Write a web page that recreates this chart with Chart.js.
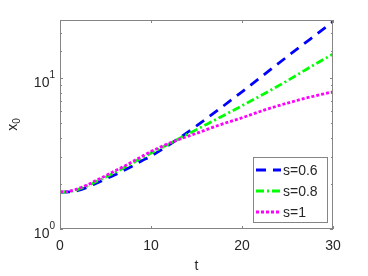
<!DOCTYPE html>
<html>
<head>
<meta charset="utf-8">
<script src="https://cdn.jsdelivr.net/npm/chart.js@4"></script>
<style>
html,body{margin:0;padding:0;background:#fff;}
#wrap{width:368px;height:276px;}
</style>
</head>
<body>
<div id="wrap"><canvas id="chart" width="368" height="276"></canvas></div>
<script>
// data
const t    = [0, 1, 2, 3, 4, 5, 6, 7, 8, 9, 10, 12.5, 15, 17.5, 20, 22.5, 25, 27.5, 30];
const s06  = [1.75, 1.76, 1.80, 1.89, 2.01, 2.14, 2.28, 2.44, 2.62, 2.83, 3.04, 3.78, 4.82, 6.22, 8.1, 10.6, 13.9, 18.1, 23.6];
const s08  = [1.75, 1.77, 1.83, 1.93, 2.06, 2.20, 2.36, 2.54, 2.74, 2.96, 3.18, 3.80, 4.55, 5.45, 6.55, 7.9, 9.6, 11.8, 14.4];
const s1   = [1.76, 1.78, 1.85, 1.96, 2.10, 2.25, 2.42, 2.59, 2.80, 3.02, 3.26, 3.80, 4.30, 4.88, 5.45, 6.15, 6.82, 7.48, 8.1];
const seriesLabels = ['s=0.6', 's=0.8', 's=1'];
const xTicks = [0, 10, 20, 30];
// y tick labels as base + exponent
const yTickBase = {1: '10', 10: '10'};
const yTickExp = {1: '0', 10: '1'};

const FONT = "'Liberation Sans', Arial, sans-serif";
const TXT = '#262626';
const AXC = '#858585';

function pts(ys) {
  return t.map((v, i) => ({x: v, y: ys[i]}));
}

const styles = [
  {color: '#0000ff', dash: [10, 7]},
  {color: '#00ff00', dash: [8, 3, 2, 3]},
  {color: '#ff00ff', dash: [3, 2]}
];
const allSeries = [s06, s08, s1];

// axes box, inward ticks, y labels and the legend, drawn the matlab way
const boxPlugin = {
  id: 'box',
  afterDatasetsDraw(chart) {
    const {ctx, chartArea: a, scales: {x, y}} = chart;
    ctx.save();
    ctx.strokeStyle = AXC;
    ctx.lineWidth = 1;
    ctx.setLineDash([]);
    ctx.strokeRect(a.left + 0.5, a.top + 0.5, a.width - 1, a.height - 1);
    ctx.beginPath();
    xTicks.forEach(v => {
      const px = Math.round(x.getPixelForValue(v)) + 0.5;
      ctx.moveTo(px, a.bottom); ctx.lineTo(px, a.bottom - 3);
      ctx.moveTo(px, a.top); ctx.lineTo(px, a.top + 3);
    });
    y.ticks.forEach(tk => {
      const py = Math.round(y.getPixelForValue(tk.value)) + 0.5;
      const len = yTickBase[tk.value] ? 3 : 2;
      ctx.moveTo(a.left, py); ctx.lineTo(a.left + len, py);
      ctx.moveTo(a.right, py); ctx.lineTo(a.right - len, py);
    });
    ctx.stroke();

    // y tick labels with superscript exponent
    ctx.fillStyle = TXT;
    ctx.textBaseline = 'alphabetic';
    ctx.textAlign = 'left';
    Object.keys(yTickBase).forEach(k => {
      const v = Number(k);
      const py = y.getPixelForValue(v);
      ctx.font = '10px ' + FONT;
      const we = ctx.measureText(yTickExp[k]).width;
      ctx.font = '14px ' + FONT;
      const wb = ctx.measureText(yTickBase[k]).width;
      const x0 = a.left - 5 - we - wb;
      ctx.fillText(yTickBase[k], x0, py + 9);
      ctx.font = '10px ' + FONT;
      ctx.fillText(yTickExp[k], x0 + wb, py);
    });

    // y title x_0, rotated
    ctx.save();
    ctx.translate(17, (a.top + a.bottom) / 2);
    ctx.rotate(-Math.PI / 2);
    ctx.font = '14px ' + FONT;
    const wx = ctx.measureText('x').width;
    ctx.font = '10px ' + FONT;
    const w0 = ctx.measureText('0').width;
    const sx = -(wx + w0) / 2;
    ctx.font = '14px ' + FONT;
    ctx.fillText('x', sx, 0);
    ctx.font = '10px ' + FONT;
    ctx.fillText('0', sx + wx, 3);
    ctx.restore();

    // legend
    const bw = 74, bh = 65;
    const bx = a.right - 6 - bw, by = a.bottom - 7 - bh;
    ctx.fillStyle = '#fff';
    ctx.fillRect(bx, by, bw, bh);
    ctx.strokeStyle = AXC;
    ctx.lineWidth = 1;
    ctx.strokeRect(bx + 0.5, by + 0.5, bw, bh);
    ctx.font = '14px ' + FONT;
    ctx.textBaseline = 'middle';
    seriesLabels.forEach((lab, i) => {
      const ry = by + 13 + i * 21;
      ctx.beginPath();
      ctx.strokeStyle = styles[i].color;
      ctx.lineWidth = 2.8;
      ctx.setLineDash(styles[i].dash);
      ctx.moveTo(bx + 3, ry); ctx.lineTo(bx + 28, ry);
      ctx.stroke();
      ctx.fillStyle = TXT;
      ctx.fillText(lab, bx + 30, ry + 1);
    });
    ctx.restore();
  }
};

new Chart('chart', {
  type: 'line',
  data: {
    datasets: allSeries.map((ys, i) => ({
      label: seriesLabels[i],
      data: pts(ys),
      borderColor: styles[i].color,
      backgroundColor: styles[i].color,
      borderDash: styles[i].dash,
      borderWidth: 2.8,
      pointRadius: 0,
      fill: false,
      cubicInterpolationMode: 'monotone',
      order: 2 - i
    }))
  },
  options: {
    responsive: false,
    animation: false,
    devicePixelRatio: 1,
    layout: {padding: {left: 0, right: 35, top: 20, bottom: 0}},
    plugins: {legend: {display: false}, tooltip: {enabled: false}},
    scales: {
      x: {
        type: 'linear',
        min: 0, max: 30,
        afterFit(s) { s.height = 47; },
        afterBuildTicks(s) { s.ticks = xTicks.map(v => ({value: v})); },
        grid: {display: false, drawTicks: false},
        border: {display: false},
        ticks: {color: TXT, font: {family: FONT, size: 14}, padding: 9, maxRotation: 0},
        title: {display: true, text: 't', color: TXT, font: {family: FONT, size: 14}, padding: {top: 0, bottom: 1}}
      },
      y: {
        type: 'logarithmic',
        min: 1, max: 24.2,
        afterFit(s) { s.width = 60; },
        grid: {display: false, drawTicks: false},
        border: {display: false},
        ticks: {display: false, autoSkip: false},
        title: {display: false}
      }
    }
  },
  plugins: [boxPlugin]
});
</script>
</body>
</html>
